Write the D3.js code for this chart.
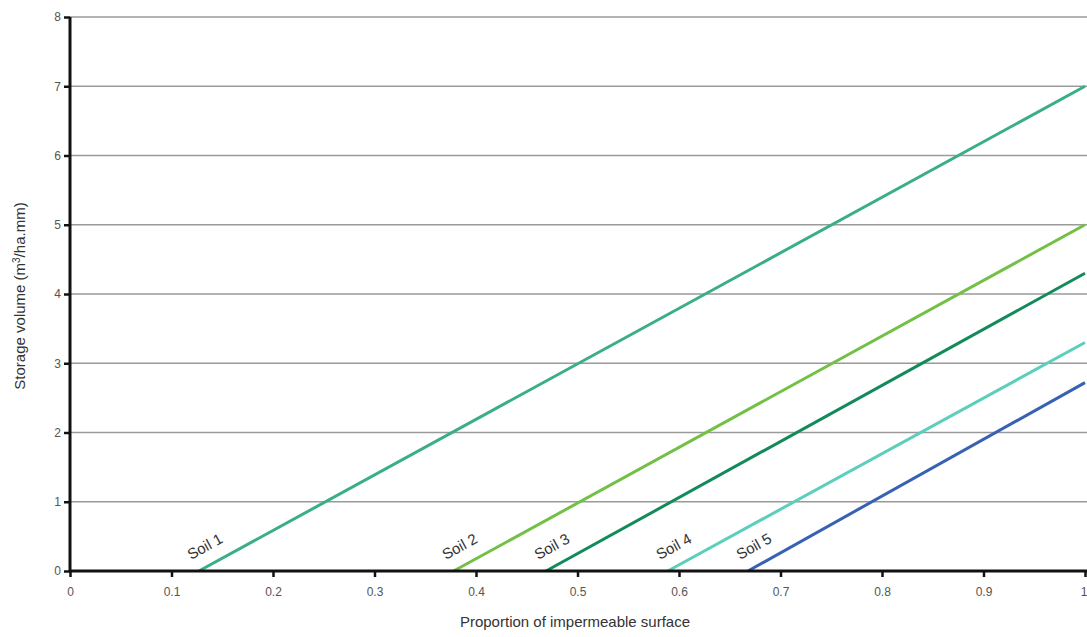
<!DOCTYPE html>
<html><head><meta charset="utf-8">
<script src="https://cdn.jsdelivr.net/npm/d3@7"></script>
<style>body{margin:0;background:#fff;} svg{display:block;}</style>
</head><body>
<svg id="c" width="1087" height="637"></svg>
<script>
const soils = ["Soil 1","Soil 2","Soil 3","Soil 4","Soil 5"];
const startX = [0.127, 0.378, 0.469, 0.589, 0.668];
const endY = [7.0, 5.0, 4.3, 3.3, 2.72];
const colors = ["#3aae84","#72c046","#138a5a","#5ccfbc","#3762b4"];
const xTicks = [0,0.1,0.2,0.3,0.4,0.5,0.6,0.7,0.8,0.9,1];
const yTicks = [0,1,2,3,4,5,6,7,8];

const FONT = "Liberation Sans, Arial, sans-serif";
const svg = d3.select("#c");
const x = d3.scaleLinear().domain([0,1]).range([70,1085]);
const y = d3.scaleLinear().domain([0,8]).range([571,17]);

// grid
svg.append("g").selectAll("line").data(yTicks.filter(d=>d>0)).join("line")
  .attr("x1",70).attr("x2",1087).attr("y1",d=>y(d)).attr("y2",d=>y(d))
  .attr("stroke","#9a9a9a").attr("stroke-width",1.5);

// lines
const lineGen = d3.line().x(d=>x(d[0])).y(d=>y(d[1]));
soils.forEach((s,i)=>{
  svg.append("path").datum([[startX[i],0],[1,endY[i]]])
    .attr("d",lineGen).attr("fill","none").attr("stroke",colors[i]).attr("stroke-width",3);
  const ang = Math.atan2(y(0)-y(endY[i]), x(1)-x(startX[i]))*180/Math.PI;
  svg.append("text").attr("transform",`translate(${x(startX[i])-8},${y(0)-11}) rotate(${-ang})`)
    .attr("font-family",FONT).attr("font-size",15).attr("fill","#333")
    .text(s);
});

// axes
const xAxis = d3.axisBottom(x).tickValues(xTicks).tickFormat(d=>d===0?"0":d===1?"1":d3.format(".1f")(d)).tickSize(6).tickPadding(10);
const gx = svg.append("g").attr("transform",`translate(0,${y(0)})`).call(xAxis);
gx.select(".domain").attr("d",`M70,0H1087`).attr("stroke","#111").attr("stroke-width",3);
gx.selectAll(".tick line").attr("stroke","#111").attr("stroke-width",2.5);
gx.selectAll("text").attr("font-family",FONT).attr("font-size",12).attr("fill","#555");
gx.selectAll(".tick text").filter(d=>d===1).attr("text-anchor","end").attr("dx",2);

const yAxis = d3.axisLeft(y).tickValues(yTicks).tickFormat(d3.format("d")).tickSize(6).tickPadding(3);
const gy = svg.append("g").attr("transform",`translate(${x(0)},0)`).call(yAxis);
gy.select(".domain").attr("d",`M0,${y(8)}V${y(0)}`).attr("stroke","#111").attr("stroke-width",3);
gy.selectAll(".tick line").attr("stroke","#111").attr("stroke-width",2.5);
gy.selectAll("text").attr("font-family",FONT).attr("font-size",12).attr("fill","#555");

// axis titles
svg.append("text").attr("x",575).attr("y",627).attr("text-anchor","middle")
  .attr("font-family",FONT).attr("font-size",15).attr("fill","#333")
  .text("Proportion of impermeable surface");
const yt = svg.append("text").attr("transform","translate(25,296) rotate(-90)").attr("text-anchor","middle")
  .attr("font-family",FONT).attr("font-size",15).attr("fill","#333");
yt.append("tspan").text("Storage volume (m");
yt.append("tspan").attr("dy",-5).attr("font-size",10).text("3");
yt.append("tspan").attr("dy",5).text("/ha.mm)");
</script>
</body></html>
